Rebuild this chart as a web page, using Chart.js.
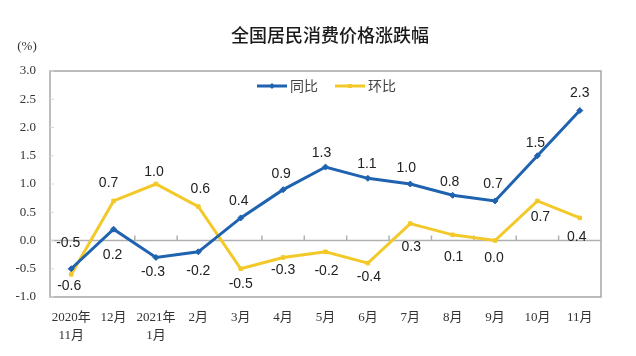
<!DOCTYPE html>
<html>
<head>
<meta charset="utf-8">
<script src="https://cdn.jsdelivr.net/npm/chart.js@4.4.0/dist/chart.umd.min.js"></script>
<style>
html,body{margin:0;padding:0;background:#fff;}
#wrap{width:636px;height:356px;position:relative;}
</style>
</head>
<body>
<div id="wrap"><canvas id="c" width="636" height="356"></canvas></div>
<script>
const titleText = '全国居民消费价格涨跌幅';
const unitText = '(%)';
const categories = [['2020年','11月'],'12月',['2021年','1月'],'2月','3月','4月','5月','6月','7月','8月','9月','10月','11月'];
const seriesNames = ['同比','环比'];
const yoyValues = [-0.5,0.2,-0.3,-0.2,0.4,0.9,1.3,1.1,1.0,0.8,0.7,1.5,2.3];
const momValues = [-0.6,0.7,1.0,0.6,-0.5,-0.3,-0.2,-0.4,0.3,0.1,0.0,0.7,0.4];
const yTicks = [-1.0,-0.5,0.0,0.5,1.0,1.5,2.0,2.5,3.0];

const BLUE = '#1f62b0';
const YELLOW = '#f2c928';

// label offsets (pixels relative to point) – styling only
const yoyLabelDy = [-26,26,15,19,-17,-16,-14,-14,-16,-13,-17,-13,-17];
const yoyLabelDx = [-3,-1,-3,0,-2,-2,-4,-1,-4,-3,-2,-2,0];
const momLabelDy = [12,-18,-12,-17,15,13,19,14,24,22,18,16,19];
const momLabelDx = [-2,-5,-2,2,0,0,1,1,1,1,-1,3,-3];

const framePlugin = {
  id: 'frame',
  beforeDatasetsDraw(chart) {
    const {ctx, chartArea: a, scales} = chart;
    ctx.save();
    ctx.strokeStyle = '#a6a6a6';
    ctx.lineWidth = 1.5;
    ctx.strokeRect(a.left, a.top, a.right - a.left, a.bottom - a.top);
    const y0 = scales.y.getPixelForValue(0);
    ctx.strokeStyle = '#b0b0b0';
    ctx.lineWidth = 1.5;
    ctx.beginPath();
    ctx.moveTo(a.left, y0); ctx.lineTo(a.right, y0);
    const n = categories.length;
    for (let i = 1; i < n; i++) {
      const x = (scales.x.getPixelForTick(i - 1) + scales.x.getPixelForTick(i)) / 2;
      ctx.moveTo(x, y0); ctx.lineTo(x, y0 - 5);
    }
    ctx.stroke();
    ctx.strokeStyle = '#d8d8d8';
    ctx.lineWidth = 1;
    ctx.beginPath();
    yTicks.forEach(v => {
      const y = scales.y.getPixelForValue(v);
      ctx.moveTo(a.left, y); ctx.lineTo(a.left + 4, y);
    });
    ctx.stroke();
    ctx.restore();
  },
  afterDraw(chart) {
    const {ctx} = chart;
    ctx.save();
    ctx.fillStyle = '#1a1a1a';
    ctx.font = '500 18px "Noto Sans CJK SC"';
    ctx.textAlign = 'center';
    ctx.textBaseline = 'middle';
    ctx.fillText(titleText, 330, 35);
    ctx.font = '13px "Liberation Serif", "Noto Sans CJK SC"';
    ctx.fillStyle = '#333';
    ctx.fillText(unitText, 27, 47);
    const items = [{x: 257, color: BLUE, style: 'rectRot'}, {x: 335, color: YELLOW, style: 'rect'}];
    ctx.font = '14px "Noto Sans CJK SC"';
    ctx.textAlign = 'left';
    items.forEach((it, i) => {
      const y = 86;
      ctx.strokeStyle = it.color;
      ctx.lineWidth = 3;
      ctx.beginPath(); ctx.moveTo(it.x, y); ctx.lineTo(it.x + 30, y); ctx.stroke();
      ctx.fillStyle = it.color;
      if (it.style === 'rectRot') {
        ctx.beginPath();
        ctx.moveTo(it.x + 15, y - 3); ctx.lineTo(it.x + 18, y); ctx.lineTo(it.x + 15, y + 3); ctx.lineTo(it.x + 12, y);
        ctx.closePath(); ctx.fill();
      } else {
        ctx.fillRect(it.x + 13, y - 2, 4, 4);
      }
      ctx.fillStyle = '#444';
      ctx.fillText(seriesNames[i], it.x + 33, y);
    });
    ctx.font = '14px "Liberation Sans", Arial';
    ctx.fillStyle = '#222';
    ctx.textAlign = 'center';
    ctx.textBaseline = 'middle';
    const sets = [[yoyValues, yoyLabelDx, yoyLabelDy], [momValues, momLabelDx, momLabelDy]];
    sets.forEach((s, di) => {
      const meta = chart.getDatasetMeta(di);
      meta.data.forEach((pt, i) => {
        ctx.fillText(s[0][i].toFixed(1), pt.x + s[1][i], pt.y + s[2][i]);
      });
    });
    ctx.restore();
  }
};

new Chart(document.getElementById('c'), {
  type: 'line',
  data: {
    labels: categories,
    datasets: [
      {label: seriesNames[0], data: yoyValues, borderColor: BLUE, backgroundColor: BLUE, borderWidth: 3,
       pointStyle: 'rectRot', pointRadius: 3, pointHoverRadius: 3, pointBorderWidth: 1, tension: 0, order: 1},
      {label: seriesNames[1], data: momValues, borderColor: YELLOW, backgroundColor: YELLOW, borderWidth: 3,
       pointStyle: 'rect', pointRadius: 2.5, pointHoverRadius: 2.5, pointBorderWidth: 1, tension: 0, order: 2}
    ]
  },
  options: {
    responsive: false,
    animation: false,
    devicePixelRatio: 1,
    layout: {padding: {top: 71, right: 35, left: 0, bottom: 0}},
    plugins: {legend: {display: false}, title: {display: false}, tooltip: {enabled: false}},
    scales: {
      x: {
        offset: true,
        grid: {display: false, drawTicks: false},
        border: {display: false},
        ticks: {color: '#333', font: {family: '"Liberation Serif", "Noto Sans CJK SC"', size: 13, lineHeight: 1.4}, padding: 11,
                maxRotation: 0, autoSkip: false},
        afterFit(scale) { scale.height = 59; }
      },
      y: {
        min: -1, max: 3,
        afterBuildTicks(scale) { scale.ticks = yTicks.map(v => ({value: v})); },
        grid: {display: false, drawTicks: false},
        border: {display: false},
        ticks: {color: '#333', font: {family: '"Liberation Serif"', size: 13}, padding: 14,
                callback: v => Number(v).toFixed(1)},
        afterFit(scale) { scale.width = 50; }
      }
    }
  },
  plugins: [framePlugin]
});
</script>
</body>
</html>
